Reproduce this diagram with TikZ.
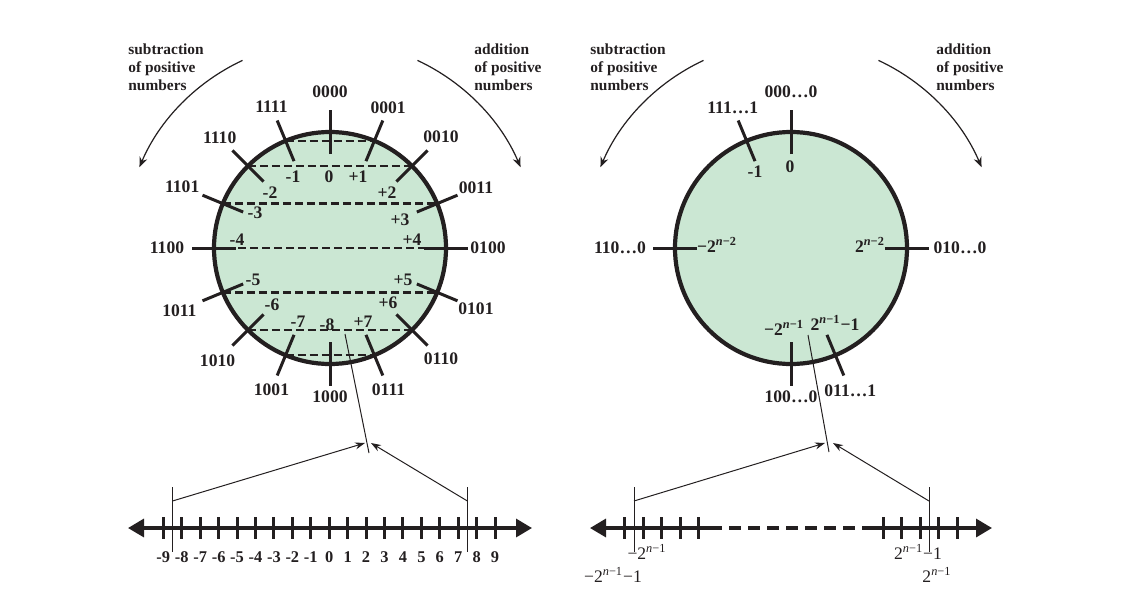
\documentclass[tikz,border=0pt]{standalone}
\usepackage{fontspec}
\setmainfont{Liberation Serif}
\usetikzlibrary{arrows.meta,positioning}
\definecolor{ringG}{RGB}{203,231,211}
\definecolor{inkK}{RGB}{35,31,32}

\begin{document}
\begin{tikzpicture}[x=0.5pt,y=0.5pt,font=\fontsize{8.8}{10}\selectfont\bfseries]
  \tikzset{ring/.style={draw=inkK,line width=2.1pt,fill=ringG},
    tk/.style={draw=inkK,line width=1.5pt},
    chord/.style={draw=inkK,line width=1.2pt,dash pattern=on 4pt off 2pt},
    lab/.style={inner sep=0pt,text=inkK},
    axis/.style={draw=inkK,line width=1.7pt},
    hair/.style={draw=inkK,line width=0.5pt},
    ptr/.style={hair,-{Stealth[length=5pt,width=3.5pt]}},
    curv/.style={draw=inkK,line width=0.6pt,-{Stealth[length=5pt,width=4pt]}},
    note/.style={lab,align=left,anchor=north west,font=\fontsize{7.7}{9}\selectfont\bfseries}}
  \useasboundingbox (0,0) rectangle (1121,-600);

  % left wheel (4 bit)
  \coordinate (cL) at (330,-248);
  \draw[ring] (cL) circle (116);
  \foreach \a/\b in {112.5/67.5,135/45,157.5/22.5,180/0,202.5/-22.5,225/-45,247.5/-67.5}
    \draw[chord] ([shift={(\a:116)}]cL) -- ([shift={(\b:116)}]cL);
  \foreach \a/\t/\d [count=\i] in {90/0000/156,67.5/0001/152,45/0010/157,22.5/0011/158,0/0100/158,-22.5/0101/158,-45/0110/157,-67.5/0111/153,-90/1000/149,-112.5/1001/153,-135/1010/159,-157.5/1011/163,180/1100/163,157.5/1101/160,135/1110/156,112.5/1111/153} {
    \draw[tk] ([shift={(\a:94)}]cL) -- ([shift={(\a:138)}]cL);
    \node[lab] (bL\i) at ([shift={(\a:\d)}]cL) {\t};
  }
  \foreach \x/\y/\t [count=\i] in {329/177/0,358/177/+1,293/177/-1,387/193/+2,270/193/-2,255/213/-3,400/220/+3,237/240/-4,412/240/+4,253/280/-5,403/280/+5,272/305/-6,388/303/+6,298/322/-7,327/325/-8,363/322/+7}
    \node[lab] (nL\i) at (\x,-\y) {\t};

  \coordinate (arcL1) at ([shift={(115:207)}]cL);
  \coordinate (arcL2) at ([shift={(65:207)}]cL);
  \draw[curv] (arcL1) arc[start angle=115,end angle=157,radius=207];
  \draw[curv] (arcL2) arc[start angle=65,end angle=23,radius=207];
  \node[note] (subL) at (128,-43) {subtraction\\of positive\\numbers};
  \node[note] (addL) at (474,-43) {addition\\of positive\\numbers};

  % left number line
  \coordinate (brkL1) at (345,-334);
  \coordinate (brkL2) at (369,-453);
  \draw[hair] (brkL1) -- (brkL2);
  \coordinate (axL0) at (128,-528);
  \coordinate (axL1) at (532,-528);
  \draw[axis,{Triangle[length=8pt,width=9pt]}-{Triangle[length=8pt,width=9pt]}] (axL0) -- (axL1);
  \foreach \k [count=\i] in {-9,...,9} {
    \draw[tk] ({329.2+18.43*\k},-517) -- ({329.2+18.43*\k},-539);
    \node[lab,font=\fontsize{8.2}{10}\selectfont\bfseries] (kL\i) at ({329.2+18.43*\k},-557) {\k};
  }
  \coordinate (loL0) at (172.5,-487);
  \coordinate (loL1) at (172.5,-552);
  \coordinate (hiL0) at (467.4,-487);
  \coordinate (hiL1) at (467.4,-552);
  \draw[hair] (loL0) -- (loL1);
  \draw[hair] (hiL0) -- (hiL1);
  \coordinate (tipL1) at (365,-443);
  \coordinate (tipL2) at (371,-443);
  \draw[ptr] (172.5,-501) -- (tipL1);
  \draw[ptr] (467.4,-501) -- (tipL2);

  % right wheel (n bit)
  \coordinate (cR) at (791,-248);
  \draw[ring] (cR) circle (116);
  \foreach \a/\t/\d [count=\i] in {90/000…0/156,112.5/111…1/152,180/110…0/171,0/010…0/169,-90/100…0/149,-67.5/011…1/155} {
    \draw[tk] ([shift={(\a:94)}]cR) -- ([shift={(\a:138)}]cR);
    \node[lab] (bR\i) at ([shift={(\a:\d)}]cR) {\t};
  }
  \node[lab] (nR1) at (790,-167) {0};
  \node[lab] (nR2) at (755,-172) {-1};
  \node[lab] (nR3) at (717,-245) {−2\textsuperscript{\textit{n}−2}};
  \node[lab] (nR4) at (870,-245) {2\textsuperscript{\textit{n}−2}};
  \node[lab] (nR5) at (784,-328) {−2\textsuperscript{\textit{n}−1}};
  \node[lab] (nR6) at (835,-323) {2\textsuperscript{\textit{n}−1}−1};

  \coordinate (arcR1) at ([shift={(115:207)}]cR);
  \coordinate (arcR2) at ([shift={(65:207)}]cR);
  \draw[curv] (arcR1) arc[start angle=115,end angle=157,radius=207];
  \draw[curv] (arcR2) arc[start angle=65,end angle=23,radius=207];
  \node[note] (subR) at (590,-43) {subtraction\\of positive\\numbers};
  \node[note] (addR) at (936,-43) {addition\\of positive\\numbers};

  % right number line
  \coordinate (brkR1) at (808,-335);
  \coordinate (brkR2) at (829,-452);
  \draw[hair] (brkR1) -- (brkR2);
  \coordinate (axR0) at (590,-528);
  \coordinate (gapR0) at (710,-528);
  \coordinate (gapR1) at (867,-528);
  \coordinate (axR1) at (992,-528);
  \draw[axis,{Triangle[length=8pt,width=9pt]}-] (axR0) -- (gapR0);
  \draw[axis,dash pattern=on 6pt off 3.5pt] (gapR0) -- (gapR1);
  \draw[axis,-{Triangle[length=8pt,width=9pt]}] (gapR1) -- (axR1);
  \foreach \x in {624.5,643,661.5,680,698.5,883,901.5,920,938.5,957}
    \draw[tk] (\x,-517) -- (\x,-539);
  \coordinate (loR0) at (634,-487);
  \coordinate (loR1) at (634,-552);
  \coordinate (hiR0) at (929,-487);
  \coordinate (hiR1) at (929,-552);
  \draw[hair] (loR0) -- (loR1);
  \draw[hair] (hiR0) -- (hiR1);
  \coordinate (tipR1) at (825,-443);
  \coordinate (tipR2) at (833,-443);
  \draw[ptr] (634,-501) -- (tipR1);
  \draw[ptr] (929,-501) -- (tipR2);
  \node[lab,font=\fontsize{8.8}{10}\selectfont] (kR1) at (647,-552) {−2\textsuperscript{\textit{n}−1}};
  \node[lab,font=\fontsize{8.8}{10}\selectfont] (kR2) at (613,-575) {−2\textsuperscript{\textit{n}−1}−1};
  \node[lab,font=\fontsize{8.8}{10}\selectfont] (kR3) at (918,-552) {2\textsuperscript{\textit{n}−1}−1};
  \node[lab,font=\fontsize{8.8}{10}\selectfont] (kR4) at (937,-575) {2\textsuperscript{\textit{n}−1}};
\end{tikzpicture}
\end{document}
